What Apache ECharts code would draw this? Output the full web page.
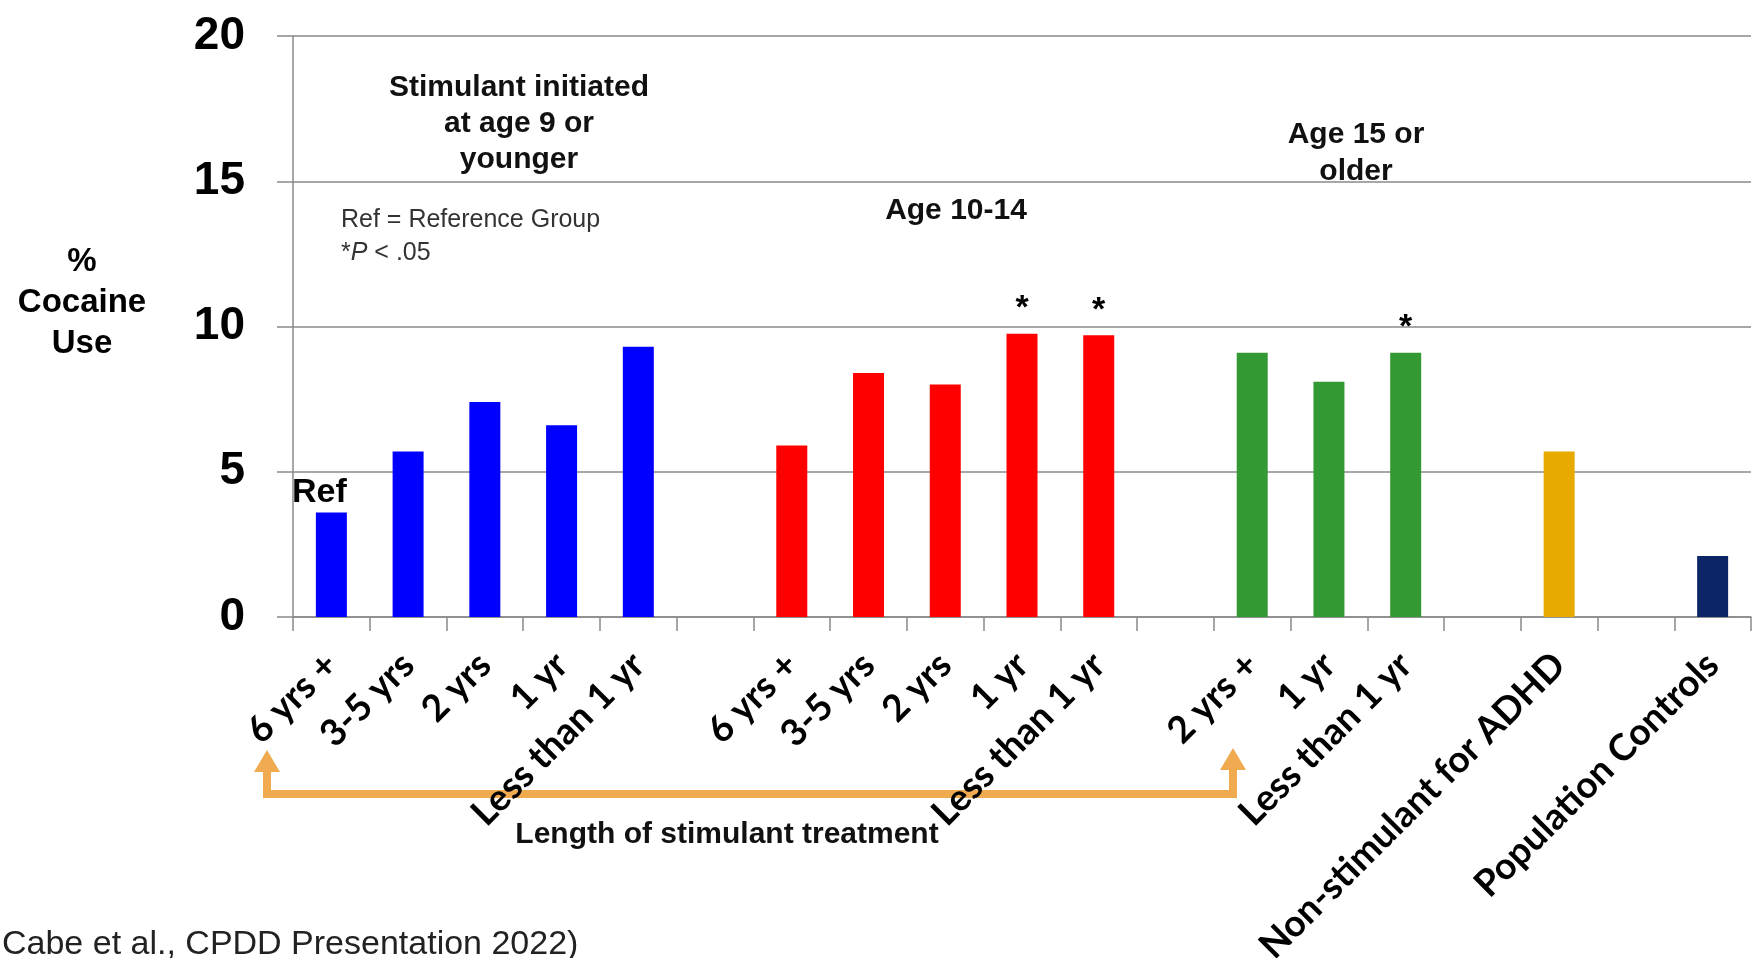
<!DOCTYPE html>
<html>
<head>
<meta charset="utf-8">
<script src="https://cdn.jsdelivr.net/npm/echarts@6/dist/echarts.min.js"></script>
<style>
  html, body {margin: 0; padding: 0; background: #fff;}
  #chart {width: 1753px; height: 958px;}
</style>
</head>
<body>
<div id="chart"></div>
<script>
// categories ('' = empty slot between groups)
var categories = ['6 yrs +', '3-5 yrs', '2 yrs', '1 yr', 'Less than 1 yr', '',
                  '6 yrs +', '3-5 yrs', '2 yrs', '1 yr', 'Less than 1 yr', '',
                  '2 yrs +', '1 yr', 'Less than 1 yr', '',
                  'Non-stimulant for ADHD', '', 'Population Controls'];
// % cocaine use
var values = [3.6, 5.7, 7.4, 6.6, 9.3, '-',
              5.9, 8.4, 8.0, 9.75, 9.7, '-',
              9.1, 8.1, 9.1, '-',
              5.7, '-', 2.1];
var barColors = ['#0000ff', '#0000ff', '#0000ff', '#0000ff', '#0000ff', '',
                 '#ff0000', '#ff0000', '#ff0000', '#ff0000', '#ff0000', '',
                 '#339933', '#339933', '#339933', '',
                 '#e6aa00', '', '#0c2566'];
var notes = ['Ref', '', '', '', '', '',
             '', '', '', '*', '*', '',
             '', '', '*', '',
             '', '', ''];

var BOLD = 'bold 30px "Liberation Sans", Arial, sans-serif';
var ARROW = '#f0aa50';

var chart = echarts.init(document.getElementById('chart'));

var barData = values.map(function (v, i) {
    var item = {value: v, itemStyle: {color: barColors[i] || '#000'}};
    if (notes[i] == 'Ref') {
        item.label = {show: true, formatter: 'Ref', fontSize: 34, fontWeight: 'bold', color: '#000', distance: 3, offset: [-12, 0], fontFamily: '"Liberation Sans", Arial, sans-serif'};
    } else if (notes[i] == '*') {
        item.label = {show: true, formatter: '*', fontSize: 34, fontWeight: 'bold', color: '#000', distance: 8, fontFamily: '"Liberation Sans", Arial, sans-serif'};
    }
    return item;
});

option = {
    backgroundColor: '#fff',
    animation: false,
    grid: {left: 293, right: 2, top: 36, bottom: 341, outerBoundsMode: 'none'},
    xAxis: {
        type: 'category', data: categories,
        axisLine: {show: true, lineStyle: {color: '#8a8a8a', width: 1.5}},
        axisTick: {show: true, alignWithLabel: false, interval: 0, length: 14, lineStyle: {color: '#8a8a8a', width: 1.5}},
        axisLabel: {interval: 0, rotate: 45, margin: 42, hideOverlap: false, color: '#000', fontSize: 37, fontWeight: 'bold', fontFamily: 'Lato, "Liberation Sans", sans-serif'},
        splitLine: {show: false}
    },
    yAxis: {
        type: 'value', min: 0, max: 20, interval: 5,
        axisLine: {show: true, lineStyle: {color: '#8a8a8a', width: 1.5}},
        axisTick: {show: true, length: 16, lineStyle: {color: '#8a8a8a', width: 1.5}},
        axisLabel: {margin: 48, color: '#000', fontSize: 46, fontWeight: 'bold', fontFamily: '"Liberation Sans", Arial, sans-serif'},
        splitLine: {show: true, lineStyle: {color: '#8a8a8a', width: 1.5}}
    },
    series: [{type: 'bar', barWidth: 31, data: barData, label: {show: false, position: 'top'}}],
    graphic: [
        {type: 'text', x: 82, y: 303, style: {text: '%\nCocaine\nUse', font: 'bold 33px "Liberation Sans", Arial, sans-serif', fill: '#000', align: 'center', verticalAlign: 'middle', lineHeight: 41}},
        {type: 'text', x: 519, y: 124, style: {text: 'Stimulant initiated\nat age 9 or\nyounger', font: BOLD, fill: '#111', align: 'center', verticalAlign: 'middle', lineHeight: 36}},
        {type: 'text', x: 341, y: 220, style: {text: 'Ref = Reference Group', font: '25px "Liberation Sans", Arial, sans-serif', fill: '#333', align: 'left', verticalAlign: 'middle'}},
        {type: 'text', x: 341, y: 253, style: {text: '*{i|P} < .05', font: '25px "Liberation Sans", Arial, sans-serif', fill: '#333', align: 'left', verticalAlign: 'middle', rich: {i: {fontStyle: 'italic', fontSize: 25, fill: '#333'}}}},
        {type: 'text', x: 956, y: 211, style: {text: 'Age 10-14', font: BOLD, fill: '#111', align: 'center', verticalAlign: 'middle'}},
        {type: 'text', x: 1356, y: 153, style: {text: 'Age 15 or\nolder', font: BOLD, fill: '#111', align: 'center', verticalAlign: 'middle', lineHeight: 37}},
        {type: 'text', x: 727, y: 835, style: {text: 'Length of stimulant treatment', font: BOLD, fill: '#111', align: 'center', verticalAlign: 'middle'}},
        {type: 'text', x: 2, y: 945, style: {text: 'Cabe et al., CPDD Presentation 2022)', font: '34px "Liberation Sans", Arial, sans-serif', fill: '#222', align: 'left', verticalAlign: 'middle'}},
        // orange bracket arrow under the stimulant groups
        {type: 'polyline', shape: {points: [[267, 770], [267, 794], [1233, 794], [1233, 768]]}, style: {stroke: ARROW, lineWidth: 8, fill: null}},
        {type: 'polygon', shape: {points: [[254, 772], [267, 750], [280, 772]]}, style: {fill: ARROW}},
        {type: 'polygon', shape: {points: [[1220, 770], [1233, 748], [1246, 770]]}, style: {fill: ARROW}}
    ]
};

chart.setOption(option);
</script>
</body>
</html>
